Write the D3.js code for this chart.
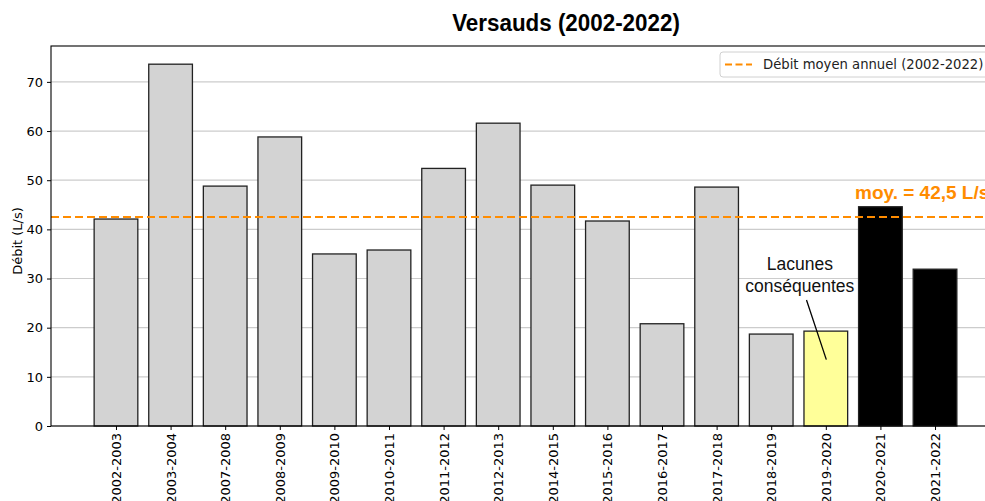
<!DOCTYPE html>
<html><head><meta charset="utf-8">
<script src="https://cdn.jsdelivr.net/npm/d3@7"></script>
<style>body{margin:0;background:#fff;}svg{display:block;}</style>
</head><body>
<svg id="c" width="985" height="501"></svg>
<script>
const categories = ["2002-2003","2003-2004","2007-2008","2008-2009","2009-2010","2010-2011","2011-2012","2012-2013","2014-2015","2015-2016","2016-2017","2017-2018","2018-2019","2019-2020","2020-2021","2021-2022"];
const values = [42.1,73.6,48.8,58.8,35.0,35.8,52.4,61.6,49.0,41.7,20.8,48.6,18.7,19.3,44.6,31.9];
const barColors = ["#d3d3d3","#d3d3d3","#d3d3d3","#d3d3d3","#d3d3d3","#d3d3d3","#d3d3d3","#d3d3d3","#d3d3d3","#d3d3d3","#d3d3d3","#d3d3d3","#d3d3d3","#ffff99","#000000","#000000"];
const yTicks = [0,10,20,30,40,50,60,70];
const meanValue = 42.5;
const title = "Versauds (2002-2022)";
const yLabel = "Débit (L/s)";
const legendLabel = "Débit moyen annuel (2002-2022)";
const meanLabel = "moy. = 42,5 L/s";
const noteLines = ["Lacunes","conséquentes"];
const noteBarIndex = 13;

const svg = d3.select("#c");
const L = 51, T = 46, B = 426, R = 1000;
const n = categories.length;
const x = d3.scaleLinear().domain([-1.19, n - 1 + 1.19]).range([L, R]);
const y = d3.scaleLinear().domain([0, 77.3]).range([B, T]);
const step = x(1) - x(0), bw = step * 0.8;

// grid
svg.append("g").selectAll("line").data(yTicks).join("line")
  .attr("x1", L).attr("x2", R).attr("y1", d => y(d)).attr("y2", d => y(d))
  .attr("stroke", "#cccccc").attr("stroke-width", 1.2);

// bars
svg.append("g").selectAll("rect").data(values).join("rect")
  .attr("x", (d, i) => x(i) - bw / 2).attr("width", bw)
  .attr("y", d => y(d)).attr("height", d => B - y(d))
  .attr("fill", (d, i) => barColors[i]).attr("stroke", "#222").attr("stroke-width", 1.3);

// mean line
svg.append("line").attr("x1", L).attr("x2", R).attr("y1", y(meanValue)).attr("y2", y(meanValue))
  .attr("stroke", "#ff8c00").attr("stroke-width", 2).attr("stroke-dasharray", "8,4");

// frame
svg.append("rect").attr("x", L).attr("y", T).attr("width", R - L).attr("height", B - T)
  .attr("fill", "none").attr("stroke", "#000").attr("stroke-width", 1.1);

// y axis
const ya = svg.append("g").attr("transform", `translate(${L},0)`)
  .call(d3.axisLeft(y).tickValues(yTicks).tickSize(4).tickPadding(4).tickFormat(d3.format("d")));
ya.select(".domain").remove();
ya.selectAll("text").attr("font-family", "DejaVu Sans").attr("font-size", 13).attr("fill", "#000");
ya.selectAll("line").attr("stroke", "#000");

// x axis
const xa = svg.append("g").attr("transform", `translate(0,${B})`)
  .call(d3.axisBottom(x).tickValues(d3.range(n)).tickSize(4).tickFormat(i => categories[i]));
xa.select(".domain").remove();
xa.selectAll("line").attr("stroke", "#000");
xa.selectAll("text").attr("font-family", "DejaVu Sans").attr("font-size", 13).attr("fill", "#000")
  .attr("transform", "rotate(-90)").attr("text-anchor", "end").attr("dy", "0.35em")
  .attr("x", -7).attr("y", 0);

// y label
svg.append("text").attr("transform", `translate(22,${(T + B) / 2 + 5}) rotate(-90)`)
  .attr("text-anchor", "middle").attr("font-family", "DejaVu Sans").attr("font-size", 13).text(yLabel);

// title
svg.append("text").attr("transform", "translate(566,31) scale(1,1.08)").attr("text-anchor", "middle")
  .attr("font-family", "Liberation Sans, Arial").attr("font-weight", "bold").attr("font-size", 22.4).text(title);

// legend
const lg = svg.append("g");
lg.append("rect").attr("x", 720).attr("y", 52).attr("width", 300).attr("height", 25).attr("rx", 3)
  .attr("fill", "#fff").attr("stroke", "#d0d0d0").attr("stroke-width", 1);
lg.append("line").attr("x1", 725).attr("x2", 752).attr("y1", 64.5).attr("y2", 64.5)
  .attr("stroke", "#ff8c00").attr("stroke-width", 2).attr("stroke-dasharray", "7,3.5");
lg.append("text").attr("x", 763).attr("y", 69).attr("font-family", "DejaVu Sans").attr("font-size", 13.2).attr("fill", "#222").text(legendLabel);

// mean label
svg.append("text").attr("x", 855).attr("y", 199).attr("font-family", "Liberation Sans, Arial")
  .attr("font-weight", "bold").attr("font-size", 19).attr("fill", "#ff8c00").text(meanLabel);

// annotation
const nx = x(noteBarIndex) - 26;
svg.append("text").attr("x", nx).attr("y", 270).attr("text-anchor", "middle")
  .attr("font-family", "Liberation Sans, Arial").attr("font-size", 17.5).attr("fill", "#111")
  .selectAll("tspan").data(noteLines).join("tspan").attr("x", nx).attr("dy", (d, i) => i ? 21.5 : 0).text(d => d);
svg.append("line").attr("x1", 806.5).attr("y1", 300).attr("x2", x(noteBarIndex) + 0.5).attr("y2", y(values[noteBarIndex] * 0.7))
  .attr("stroke", "#000").attr("stroke-width", 1.3);
</script>
</body></html>
